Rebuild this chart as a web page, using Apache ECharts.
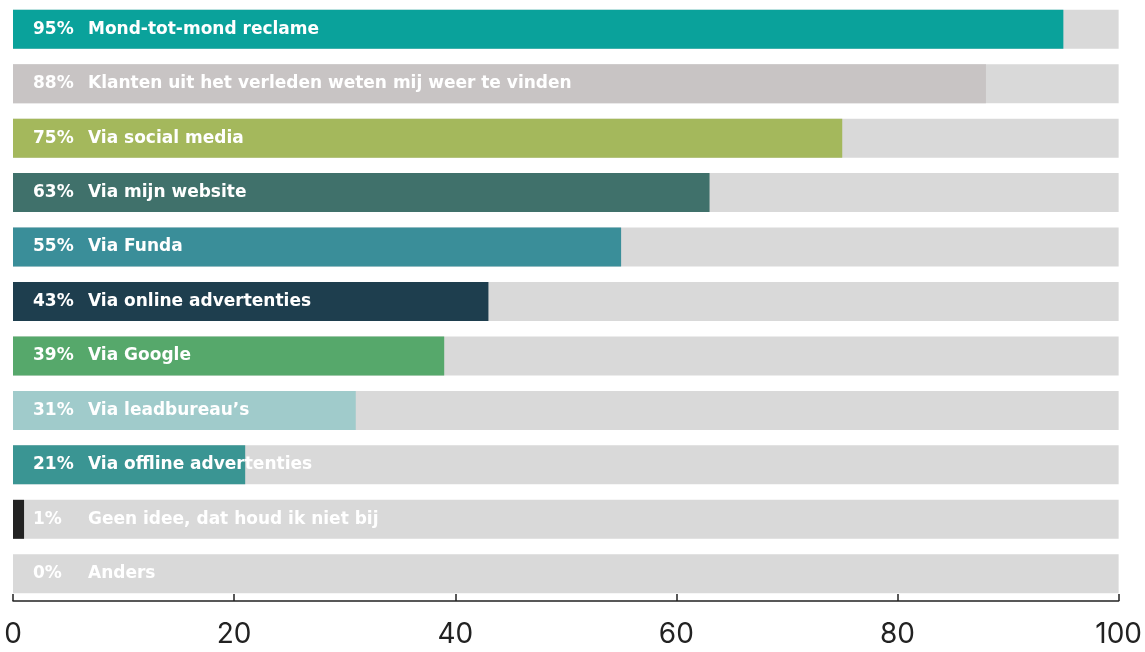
<!DOCTYPE html>
<html>
<head>
<meta charset="utf-8">
<script src="https://cdn.jsdelivr.net/npm/echarts@6/dist/echarts.min.js"></script>
<style>
  html, body { margin: 0; padding: 0; background: #fff; }
  #main { width: 1145px; height: 652px; }
</style>
</head>
<body>
<div id="main"></div>
<script>
const categories = [
  'Mond-tot-mond reclame',
  'Klanten uit het verleden weten mij weer te vinden',
  'Via social media',
  'Via mijn website',
  'Via Funda',
  'Via online advertenties',
  'Via Google',
  'Via leadbureau\u2019s',
  'Via offline advertenties',
  'Geen idee, dat houd ik niet bij',
  'Anders'
];
const values = [95, 88, 75, 63, 55, 43, 39, 31, 21, 1, 0];
const colors = ['#0aa29b', '#c8c4c4', '#a4b85c', '#40716b', '#3a8e99', '#1e3e4e',
  '#56a86b', '#a0cbcb', '#3a9593', '#222222', '#d9d9d9'];
const xTicks = [0, 20, 40, 60, 80, 100];

const chart = echarts.init(document.getElementById('main'));
const labelFont = { color: '#fff', fontWeight: 'bold', fontSize: 17, fontFamily: 'DejaVu Sans' };
chart.setOption({
  animation: false,
  grid: { left: 13, right: 26, top: 2, bottom: 51 },
  xAxis: {
    type: 'value', min: xTicks[0], max: xTicks[xTicks.length - 1], interval: 20,
    splitLine: { show: false },
    axisLine: { show: true, lineStyle: { color: '#222', width: 1.5 } },
    axisTick: { show: true, inside: true, length: 7, lineStyle: { color: '#222', width: 1.5 } },
    axisLabel: { fontSize: 28, color: '#222', margin: 20, fontFamily: 'Inter' }
  },
  yAxis: {
    type: 'category', data: categories, inverse: true, show: false
  },
  series: [{
    type: 'bar',
    barWidth: 39,
    showBackground: true,
    backgroundStyle: { color: '#d9d9d9' },
    data: values.map((v, i) => ({ value: v, itemStyle: { color: colors[i] } })),
    label: Object.assign({
      show: true,
      position: 'insideLeft',
      distance: 20,
      formatter: p => '{p|' + p.value + '%}{n|' + p.name + '}',
      rich: {
        p: Object.assign({ width: 55 }, labelFont),
        n: Object.assign({}, labelFont)
      }
    }, labelFont)
  }]
});
</script>
</body>
</html>
